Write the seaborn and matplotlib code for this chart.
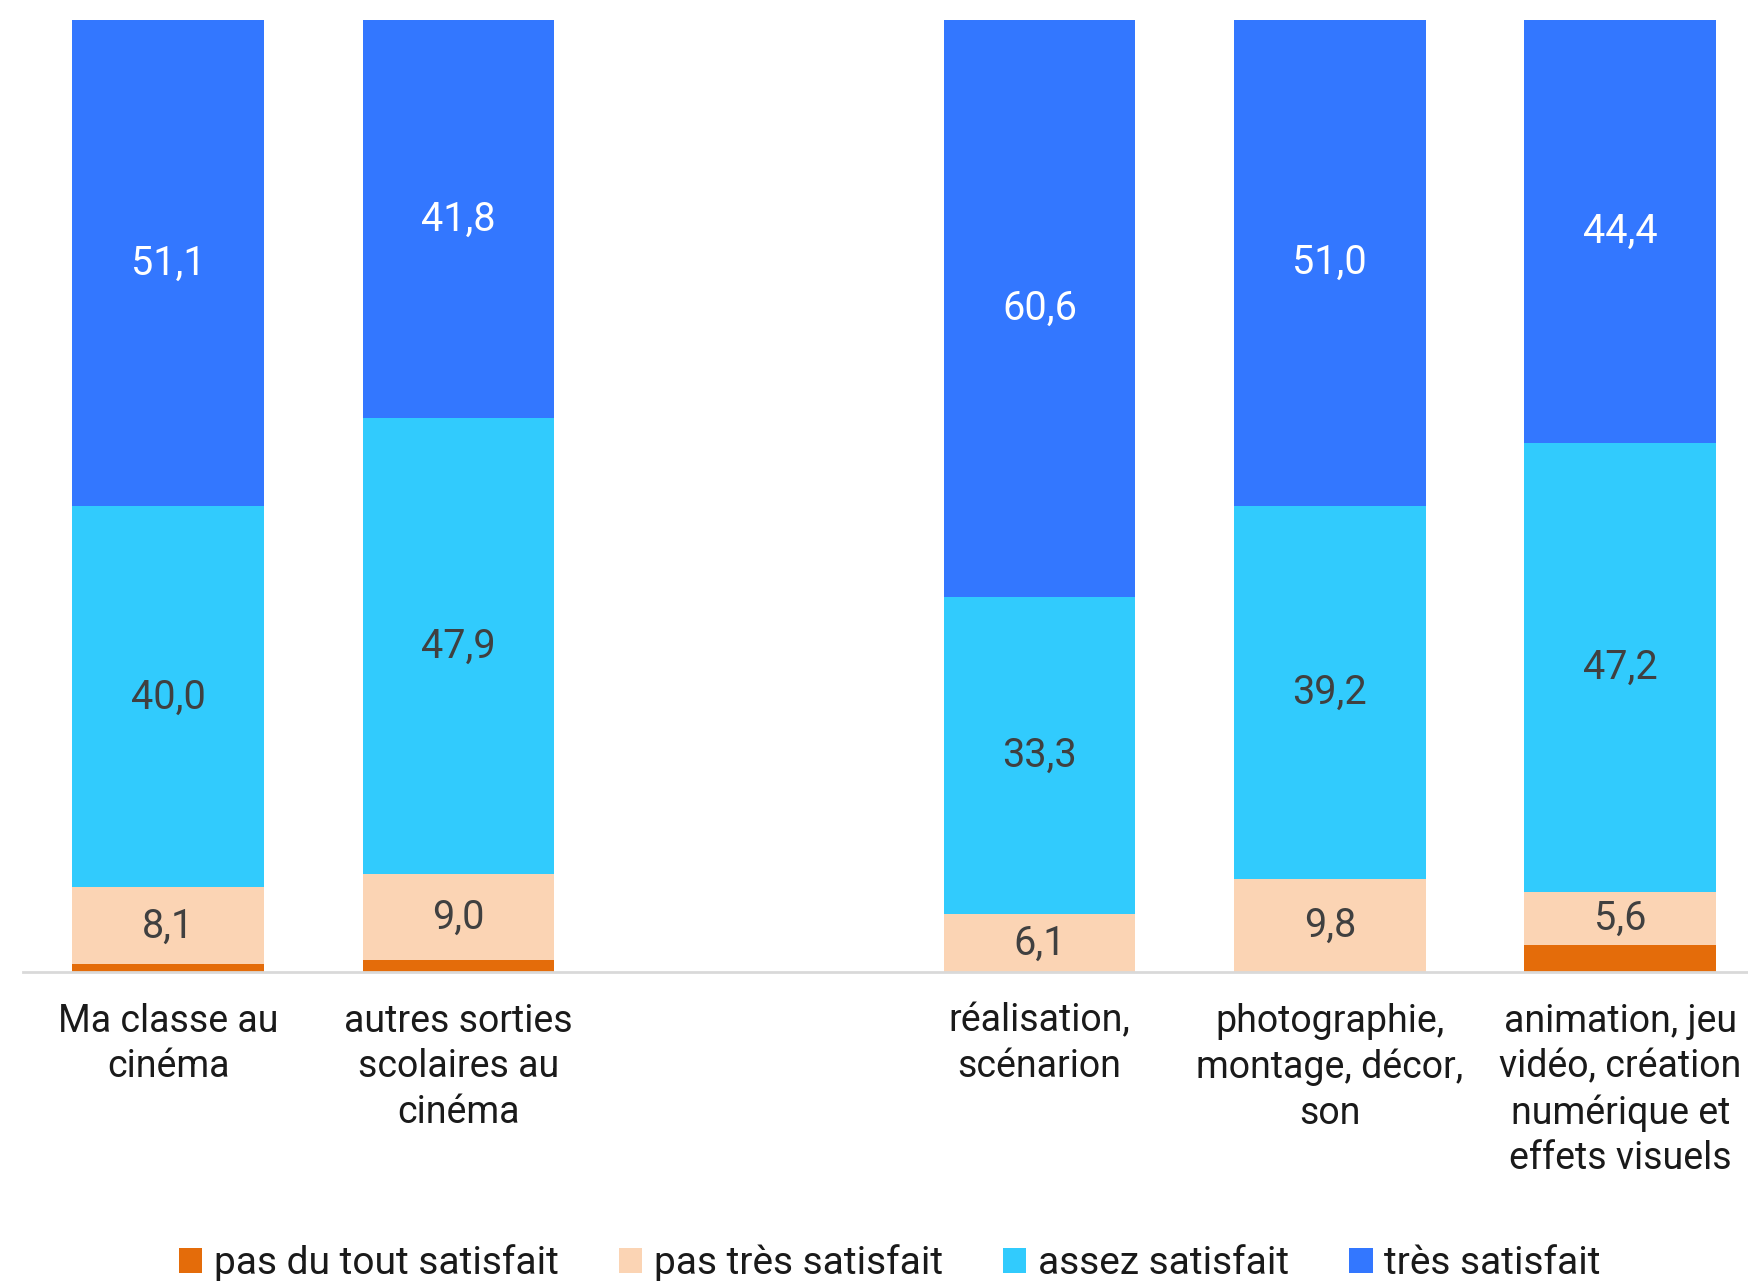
import matplotlib
matplotlib.use("Agg")
import matplotlib.pyplot as plt
from matplotlib.patches import Patch
import seaborn as sns
import numpy as np

# categories (a blank slot separates the two groups)
categories = ["Ma classe au\ncinéma", "autres sorties\nscolaires au\ncinéma", " ",
              "réalisation,\nscénarion", "photographie,\nmontage, décor,\nson",
              "animation, jeu\nvidéo, création\nnumérique et\neffets visuels"]
bar_cats = [categories[0], categories[1], categories[3], categories[4], categories[5]]

levels = ["pas du tout satisfait", "pas très satisfait", "assez satisfait", "très satisfait"]
pas_du_tout = [0.8, 1.3, 0.0, 0.0, 2.8]
pas_tres = [8.1, 9.0, 6.1, 9.8, 5.6]
assez = [40.0, 47.9, 33.3, 39.2, 47.2]
tres = [51.1, 41.8, 60.6, 51.0, 44.4]

colors = ["#E46C0A", "#FBD4B4", "#31CBFD", "#3377FF"]
label_colors = [None, "#404040", "#404040", "white"]

sns.set_theme(style="white")
plt.rcParams["font.family"] = ["Roboto", "DejaVu Sans"]

fig = plt.figure(figsize=(17.48, 12.81), dpi=100)
left = 23 / 1748
ax = fig.add_axes([left, 0.2412, 1 - left, 0.7432])

series = [np.array(pas_du_tout), np.array(pas_tres), np.array(assez), np.array(tres)]
cum = np.cumsum(series, axis=0)

# draw from tallest cumulative to smallest so each level stacks on the one below
for i in range(3, -1, -1):
    sns.barplot(x=bar_cats, y=cum[i], order=categories, color=colors[i],
                width=0.66, errorbar=None, linewidth=0, saturation=1, ax=ax)

pos = {c: categories.index(c) for c in bar_cats}
for i in range(1, 4):
    bottoms = cum[i] - series[i]
    for j, c in enumerate(bar_cats):
        v = series[i][j]
        ax.text(pos[c], bottoms[j] + v / 2, f"{v:.1f}".replace(".", ","),
                ha="center", va="center", fontsize=28.5, color=label_colors[i])

ax.set_ylim(0, 100)
ax.set_xlim(-0.5, (1748 - 23) / 290.4 - 0.5)
ax.set_yticks([])
ax.set_ylabel("")
ax.set_xlabel("")
for s in ["top", "left", "right"]:
    ax.spines[s].set_visible(False)
ax.spines["bottom"].set_color("#D9D9D9")
ax.spines["bottom"].set_linewidth(2)
ax.tick_params(axis="x", length=0, pad=22, labelsize=27, labelcolor="#1a1a1a")
ax.set_xticks(range(len(categories)))
ax.set_xticklabels(categories, linespacing=1.3)

handles = [Patch(facecolor=c, edgecolor="none") for c in colors]
fig.legend(handles, levels, loc="center", bbox_to_anchor=(0.509, 18 / 1281), ncol=4,
           frameon=False, fontsize=28, handlelength=0.6, handleheight=0.6,
           handletextpad=0.3, columnspacing=1.55, labelcolor="#1a1a1a")

fig.savefig("out.png", dpi=100)
